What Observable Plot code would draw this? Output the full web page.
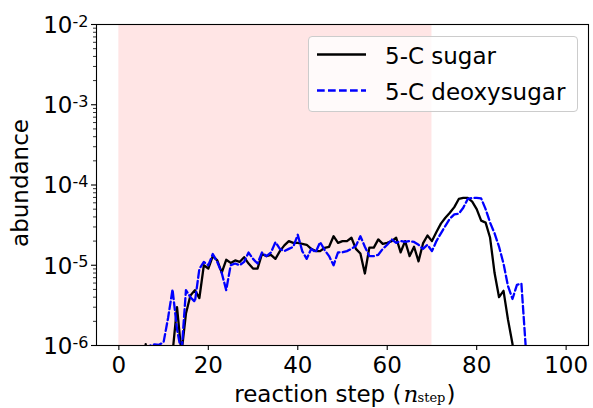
<!DOCTYPE html>
<html><head><meta charset="utf-8">
<script src="https://cdn.jsdelivr.net/npm/d3@7"></script>
<script src="https://cdn.jsdelivr.net/npm/@observablehq/plot@0.6"></script>
<style>
html,body{margin:0;padding:0;background:#fff;}
#wrap{position:relative;width:593px;height:408px;font-family:"DejaVu Sans",sans-serif;}
#legend{position:absolute;left:308px;top:36px;width:270px;height:76px;background:rgba(255,255,255,0.8);border:1px solid #cccccc;border-radius:4px;box-sizing:border-box;}
#legend svg{position:absolute;left:0;top:0;overflow:visible;}
</style></head><body><div id="wrap"></div>
<script>
// ---- data ----
const seriesNames = ["5-C sugar", "5-C deoxysugar"];
const sugarStart = 4;
const sugarValues = [
  1e-8, 1e-7, 1.04e-6, 1e-7, 2e-7, 3e-7, 4e-7, 6e-7, 8e-7, 3.0e-6,      // 4-13
  8e-7, 2.5e-6, 4.2e-6, 4.9e-6, 3.9e-6, 1.0e-5, 9.1e-6, 1.3e-5, 1.15e-5, 8.1e-6, // 14-23
  1.17e-5, 1.07e-5, 1.15e-5, 1.1e-5, 1.26e-5, 1.05e-5, 9.1e-6, 9.1e-6, 1.38e-5, 1.3e-5, // 24-33
  1.35e-5, 1.2e-5, 1.5e-5, 1.77e-5, 2.0e-5, 1.9e-5, 1.9e-5, 1.85e-5, 1.8e-5, 1.6e-5, // 34-43
  1.5e-5, 1.5e-5, 1.65e-5, 1.7e-5, 2.3e-5, 1.9e-5, 2.0e-5, 2.0e-5, 2.2e-5, 1.6e-5, // 44-53
  1.4e-5, 7.9e-6, 1.66e-5, 1.66e-5, 2.1e-5, 1.85e-5, 1.9e-5, 2.0e-5, 2.2e-5, 1.45e-5, // 54-63
  2.0e-5, 1.3e-5, 1.7e-5, 1.12e-5, 1.87e-5, 2.35e-5, 2.0e-5, 2.6e-5, 3.3e-5, 3.9e-5, // 64-73
  4.5e-5, 5.3e-5, 6.7e-5, 6.9e-5, 6.9e-5, 6.2e-5, 5.0e-5, 3.6e-5, 3.4e-5, 2.2e-5, // 74-83
  8e-6, 4.0e-6, 4.8e-6, 2.1e-6, 1.05e-6, 4e-7                                      // 84-89
];
const deoxyStart = 4;
const deoxyValues = [
  1e-8, 1e-7, 5e-7, 1.0e-6, 1.03e-6, 1.02e-6, 1.1e-6, 2.2e-6, 5.0e-6, 1.6e-6,     // 4-13
  8e-7, 4.9e-6, 4.0e-6, 3.5e-6, 9.0e-6, 1.1e-5, 1.0e-5, 1.38e-5, 1.1e-5, 8e-6,     // 14-23
  4.9e-6, 1.0e-5, 1.05e-5, 1.0e-5, 1.1e-5, 1.44e-5, 1.2e-5, 1.05e-5, 1.44e-5, 1.3e-5, // 24-33
  1.44e-5, 1.94e-5, 1.6e-5, 1.5e-5, 1.6e-5, 1.7e-5, 2.4e-5, 1.5e-5, 1.2e-5, 1.6e-5, // 34-43
  1.45e-5, 1.94e-5, 1.55e-5, 1.3e-5, 1.0e-5, 1.45e-5, 1.45e-5, 1.5e-5, 1.6e-5, 1.75e-5, // 44-53
  2.3e-5, 1.7e-5, 1.3e-5, 1.3e-5, 1.35e-5, 1.6e-5, 1.8e-5, 2.1e-5, 1.9e-5, 2.0e-5, // 54-63
  1.95e-5, 2.0e-5, 1.95e-5, 1.8e-5, 1.6e-5, 1.8e-5, 1.5e-5, 2.0e-5, 2.5e-5, 3.1e-5, // 64-73
  3.8e-5, 4.3e-5, 4.4e-5, 5.2e-5, 6.7e-5, 6.9e-5, 6.9e-5, 6.8e-5, 5.0e-5, 3.4e-5, // 74-83
  2.5e-5, 1.7e-5, 1.05e-5, 5.5e-6, 3.8e-6, 5.7e-6, 5.9e-6, 9e-7                   // 84-91
];
const shadeStart = 0, shadeEnd = 70;
const xTicks = [0, 20, 40, 60, 80, 100];
const yTicks = [1e-6, 1e-5, 1e-4, 1e-3, 1e-2];
const yTickBase = "10";
const yTickExp = ["-6", "-5", "-4", "-3", "-2"];
const xLabel = "reaction step (";
const yLabel = "abundance";

// ---- build ----
const sugar = sugarValues.map((v, i) => ({step: sugarStart + i, value: v}));
const deoxy = deoxyValues.map((v, i) => ({step: deoxyStart + i, value: v}));
const minorTicks = [];
for (let k = 0; k < yTicks.length - 1; k++) for (let m = 2; m <= 9; m++) minorTicks.push(yTicks[k] * m);

const FS = 23;
const LW = 2.3;
const DASH = "7.7,3.3";
const chart = Plot.plot({
  width: 593, height: 408,
  marginLeft: 96, marginRight: 5, marginTop: 24, marginBottom: 63,
  style: {fontFamily: "DejaVu Sans", fontSize: FS + "px", background: "white", color: "black", overflow: "visible"},
  x: {domain: [-5, 105]},
  y: {type: "log", domain: [1e-6, 1e-2]},
  marks: [
    Plot.rect([{a: shadeStart, b: shadeEnd}], {x1: "a", x2: "b", fill: "#ffe5e5"}),
    Plot.line(sugar, {x: "step", y: "value", stroke: "black", strokeWidth: LW, clip: true}),
    Plot.line(deoxy, {x: "step", y: "value", stroke: "blue", strokeWidth: LW, strokeDasharray: DASH, clip: true}),
    Plot.axisX({ticks: xTicks, tickSize: 5, tickFormat: () => "", label: null, strokeWidth: 1.1}),
    Plot.text(xTicks, {x: d => d, frameAnchor: "bottom", text: d => String(d), textAnchor: "middle", lineAnchor: "middle", dy: 20, fontSize: FS}),
    Plot.axisY({ticks: yTicks, tickSize: 5, tickFormat: () => "", label: null, strokeWidth: 1.1}),
    Plot.axisY({ticks: minorTicks, tickSize: 3, tickFormat: () => "", label: null, strokeWidth: 0.8}),
    Plot.text(yTicks, {y: d => d, frameAnchor: "left", text: () => yTickBase, textAnchor: "end", dx: -24, dy: 1, fontSize: FS}),
    Plot.text(yTicks, {y: d => d, frameAnchor: "left", text: (d, i) => yTickExp[i], textAnchor: "end", dx: -8, dy: -3, fontSize: 16}),
    Plot.frame({stroke: "black", strokeWidth: 1.1}),
    Plot.text([yLabel], {frameAnchor: "left", text: d => d, rotate: -90, textAnchor: "middle", lineAnchor: "middle", dx: -76, dy: -2, fontSize: FS}),
    Plot.text([xLabel], {frameAnchor: "bottom", text: d => d, textAnchor: "end", lineAnchor: "middle", dx: 59, dy: 49, fontSize: FS}),
    Plot.text(["n"], {frameAnchor: "bottom", text: d => d, textAnchor: "start", lineAnchor: "middle", dx: 61, dy: 49, fontSize: FS, fontFamily: "DejaVu Serif", fontStyle: "italic"}),
    Plot.text(["step"], {frameAnchor: "bottom", text: d => d, textAnchor: "start", lineAnchor: "middle", dx: 75, dy: 52, fontSize: 13, fontFamily: "DejaVu Serif"}),
    Plot.text([")"], {frameAnchor: "bottom", text: d => d, textAnchor: "start", lineAnchor: "middle", dx: 104, dy: 49, fontSize: FS})
  ]
});

const wrap = document.getElementById("wrap");
wrap.appendChild(chart);
const legend = document.createElement("div");
legend.id = "legend";
const ns = "http://www.w3.org/2000/svg";
const lsvg = document.createElementNS(ns, "svg");
lsvg.setAttribute("width", 268); lsvg.setAttribute("height", 74);
const styles = [{stroke: "black", dash: null}, {stroke: "blue", dash: DASH}];
seriesNames.forEach((name, i) => {
  const y = 17.5 + i * 36;
  const ln = document.createElementNS(ns, "line");
  ln.setAttribute("x1", 8); ln.setAttribute("x2", 57);
  ln.setAttribute("y1", y); ln.setAttribute("y2", y);
  ln.setAttribute("stroke", styles[i].stroke); ln.setAttribute("stroke-width", LW);
  if (styles[i].dash) ln.setAttribute("stroke-dasharray", styles[i].dash);
  lsvg.appendChild(ln);
  const t = document.createElementNS(ns, "text");
  t.setAttribute("x", 76); t.setAttribute("y", y + 9);
  t.setAttribute("font-size", FS); t.setAttribute("font-family", "DejaVu Sans");
  t.textContent = name;
  lsvg.appendChild(t);
});
legend.appendChild(lsvg);
wrap.appendChild(legend);
</script></body></html>
